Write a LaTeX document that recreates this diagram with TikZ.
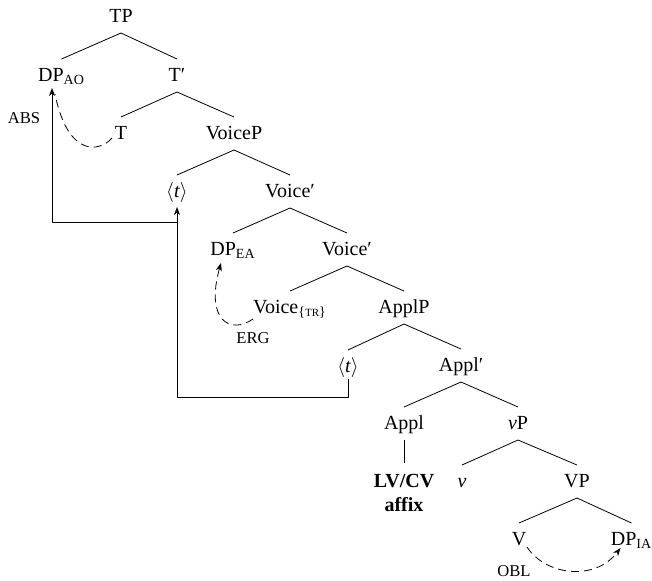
\documentclass[tikz,border=0pt]{standalone}
\usepackage{fontspec}
\setmainfont{Liberation Serif}
\usetikzlibrary{arrows.meta}
\newcommand\trace{\ensuremath{\langle}\textit{t}\ensuremath{\rangle}}
\newcommand\br[2]{\draw ([yshift=-8pt]#1.center) -- ([yshift=8.5pt]#2.center);}
\begin{document}
\begin{tikzpicture}[x=.5pt,y=-.5pt,line join=round,>={Stealth[length=4pt,width=3pt,inset=1.2pt]}]
    \tikzset{cat/.style={inner sep=0pt,text height=7pt,text depth=2pt},
        mv/.style={dash pattern=on 4pt off 2.5pt},
        lab/.style={inner sep=0pt,font=\fontsize{8.3}{10}\selectfont}}
    \useasboundingbox (0,0) rectangle (652,580);
    % the tree
    \node[cat] (TP) at (121,17) {TP};
    \node[cat] (DPao) at (61.5,76) {DP\textsubscript{AO}};
    \node[cat] (Tbar) at (177,76) {T′};
    \node[cat] (T) at (121,134) {T};
    \node[cat] (VoiceP) at (234,134) {VoiceP};
    \node[cat] (ta) at (177,192) {\trace};
    \node[cat] (Voicea) at (290,192) {Voice′};
    \node[cat] (DPea) at (233,250) {DP\textsubscript{EA}};
    \node[cat] (Voiceb) at (347,250) {Voice′};
    \node[cat] (Voicetr) at (290,308) {Voice\textsubscript{\{{\fontsize{5.5}{6}\selectfont TR}\}}};
    \node[cat] (ApplP) at (404,308) {ApplP};
    \node[cat] (tb) at (348,367) {\trace};
    \node[cat] (Applbar) at (461,366) {Appl′};
    \node[cat] (Appl) at (404,424) {Appl};
    \node[cat] (vP) at (518,424) {\textit{v}P};
    \node[inner sep=0pt,anchor=north,align=center,font=\bfseries] (affix) at (404,474) {LV/CV\\affix};
    \node[cat] (v) at (462,482) {\textit{v}};
    \node[cat] (VP) at (577,482) {VP};
    \node[cat] (V) at (519,540) {V};
    \node[cat] (DPia) at (631.5,540) {DP\textsubscript{IA}};

    \br{TP}{DPao} \br{TP}{Tbar}
    \br{Tbar}{T} \br{Tbar}{VoiceP}
    \br{VoiceP}{ta} \br{VoiceP}{Voicea}
    \br{Voicea}{DPea} \br{Voicea}{Voiceb}
    \br{Voiceb}{Voicetr} \br{Voiceb}{ApplP}
    \br{ApplP}{tb} \br{ApplP}{Applbar}
    \br{Applbar}{Appl} \br{Applbar}{vP}
    \br{vP}{v} \br{vP}{VP}
    \br{VP}{V} \br{VP}{DPia}
    \draw ([yshift=-8pt]Appl.center) -- ([yshift=5.5pt]affix.north);

    % movement
    \coordinate (bendA) at (177,397);
    \coordinate (bendB) at (52,222);
    \coordinate (aoTip) at ([yshift=-6pt]DPao.center);
    \draw[->] ([yshift=-6pt]tb.center) |- (bendA) -- ([yshift=-7.5pt]ta.center);
    \draw[->] (bendA |- bendB) -- (bendB) -- (bendB |- aoTip);

    % case
    \draw[mv] ([shift={(-9,4)}]T.center) .. controls +(-12,14) and +(13,64) .. ([shift={(-6.5,18)}]DPao.center);
    \draw[mv,->] ([shift={(-37,11)}]Voicetr.center) .. controls +(-23,16) and +(-16,57) .. ([shift={(-12,13)}]DPea.center);
    \draw[mv,->] ([shift={(8,7)}]V.center) .. controls +(18,28) and +(-26,34) .. ([shift={(-11,8)}]DPia.center);
    \node[lab] (abs) at (24,118) {ABS};
    \node[lab] (erg) at (253,338) {ERG};
    \node[lab] (obl) at (514,571) {OBL};
\end{tikzpicture}
\end{document}
